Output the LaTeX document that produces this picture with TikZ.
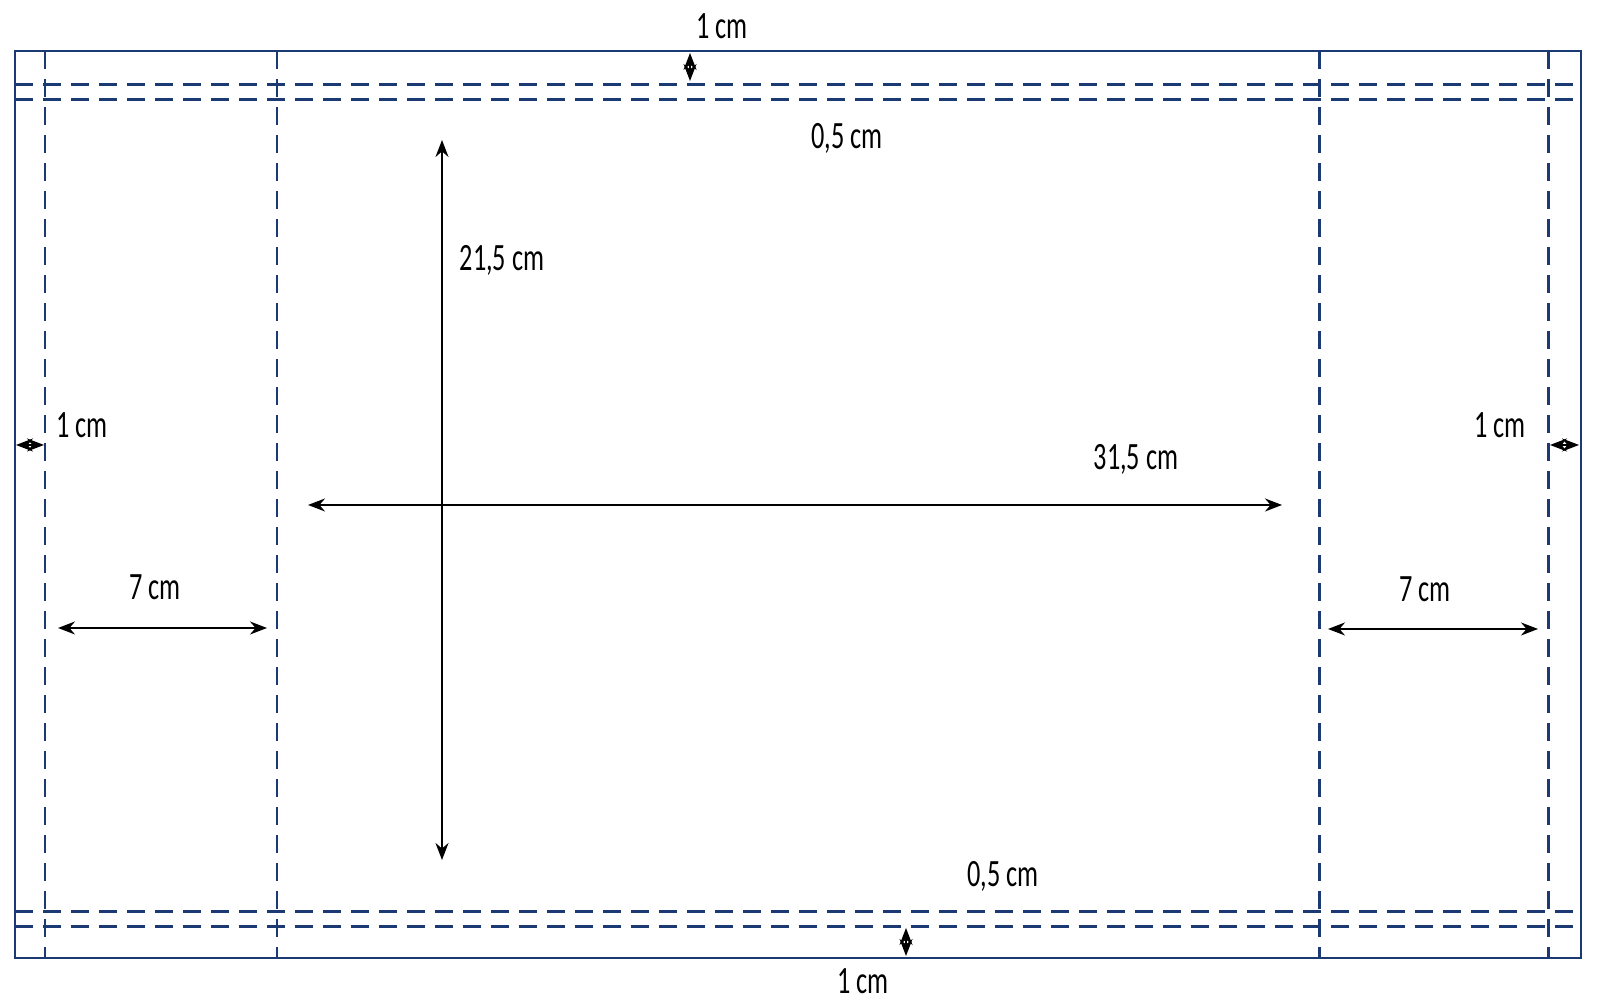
\documentclass[tikz,border=0pt]{standalone}
\usepackage{fontspec}
\setmainfont{Carlito}[FakeStretch=0.68]
\usetikzlibrary{arrows.meta}
\definecolor{seam}{HTML}{1B3A73}
\tikzset{edge/.style={draw=seam,line width=0.8pt},
  fold/.style={draw=seam,line width=0.85pt,dash pattern=on 1.8mm off 1mm},
  dim/.style={draw=black,line width=0.5pt,{Stealth[length=1.7mm,width=1.3mm]}-{Stealth[length=1.7mm,width=1.3mm]}},
  lbl/.style={font=\fontsize{11}{13}\selectfont,inner sep=0pt}}
\begin{document}
\begin{tikzpicture}
\useasboundingbox (0,0) rectangle (16,10);
% outer edge and fold lines
\draw[edge] (0.15,0.42) rectangle (15.81,9.49);
\foreach \x in {0.45,2.77,13.19,15.48} \draw[fold] (\x,9.49) -- (\x,0.42);
\foreach \y in {9.15,9.00,0.88,0.73} \draw[fold] (0.15,\y) -- (15.81,\y);
% dimension ends
\coordinate (vt) at (4.42,8.60); \coordinate (vb) at (4.42,1.40);
\coordinate (hl) at (3.08,4.95); \coordinate (hr) at (12.82,4.95);
\coordinate (sl) at (0.58,3.72); \coordinate (sr) at (2.67,3.72);
\coordinate (tl) at (13.28,3.71); \coordinate (tr) at (15.38,3.71);
\coordinate (ua) at (6.90,9.47); \coordinate (ub) at (6.90,9.19);
\coordinate (da) at (9.06,0.72); \coordinate (db) at (9.06,0.44);
\coordinate (la) at (0.16,5.55); \coordinate (lb) at (0.44,5.55);
\coordinate (ra) at (15.50,5.55); \coordinate (rb) at (15.79,5.55);
\draw[dim] (vt) -- (vb); \draw[dim] (hl) -- (hr);
\draw[dim] (sl) -- (sr); \draw[dim] (tl) -- (tr);
\draw[dim] (ua) -- (ub); \draw[dim] (da) -- (db);
\draw[dim] (la) -- (lb); \draw[dim] (ra) -- (rb);
% labels
\node[lbl] (top) at (7.22,9.74) {1 cm};
\node[lbl] (tophem) at (8.47,8.62) {0,5 cm};
\node[lbl] (height) at (5.02,7.40) {21,5 cm};
\node[lbl] (width) at (11.36,5.41) {31,5 cm};
\node[lbl] (left) at (0.82,5.75) {1 cm};
\node[lbl] (right) at (15.00,5.75) {1 cm};
\node[lbl] (flapl) at (1.55,4.13) {7 cm};
\node[lbl] (flapr) at (14.25,4.11) {7 cm};
\node[lbl] (bothem) at (10.03,1.24) {0,5 cm};
\node[lbl] (bot) at (8.63,0.19) {1 cm};
\end{tikzpicture}
\end{document}
